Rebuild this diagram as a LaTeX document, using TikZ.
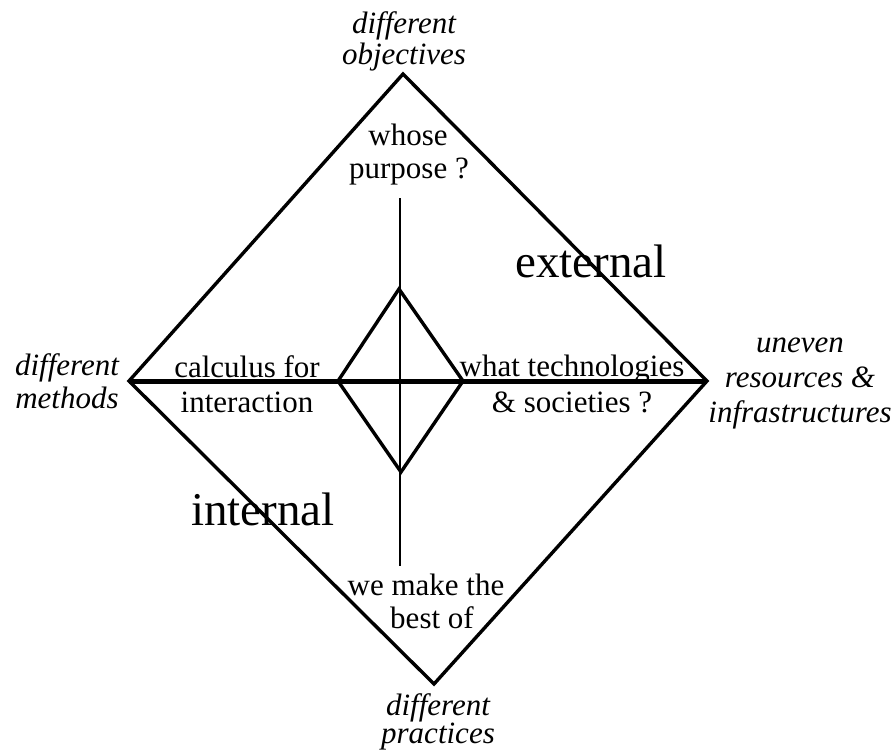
\documentclass[tikz,border=0pt]{standalone}
\usepackage{fontspec}
\setmainfont{Liberation Serif}
\begin{document}
\begin{tikzpicture}[x=1pt,y=-1pt,
  lbl/.style={anchor=base,inner sep=0pt,font=\fontsize{31}{35}\selectfont},
  ilbl/.style={lbl,font=\fontsize{31}{35}\selectfont\itshape},
  big/.style={anchor=base,inner sep=0pt,font=\fontsize{47}{50}\selectfont},
  edge/.style={line width=3.4pt,line join=miter}]
\useasboundingbox (0,0) rectangle (895,753);
% outer diamond corners
\coordinate (T) at (403,74);
\coordinate (L) at (129,381);
\coordinate (B) at (434,684);
\coordinate (R) at (707,381);
% inner diamond corners
\coordinate (t) at (399,289);
\coordinate (l) at (338,381);
\coordinate (b) at (401,472);
\coordinate (r) at (463,381);
% vertical axis ends
\coordinate (vt) at (400,198);
\coordinate (vb) at (400,566);
\draw[edge] (L) -- (T) -- (R) -- (B) -- cycle;
\draw[edge] (l) -- (t) -- (r) -- (b) -- cycle;
\draw[line width=5pt] (L) -- (R);
\draw[line width=2.4pt] (vt) -- (vb);
% labels
\node[ilbl] (o1) at (404,33) {different};
\node[ilbl] (o2) at (404,64) {objectives};
\node[ilbl] (m1) at (67,375) {different};
\node[ilbl] (m2) at (67,408) {methods};
\node[ilbl] (u1) at (800,352) {uneven};
\node[ilbl] (u2) at (800,387) {resources \&};
\node[ilbl] (u3) at (800,422) {infrastructures};
\node[ilbl] (p1) at (438,715) {different};
\node[ilbl] (p2) at (438,743) {practices};
\node[lbl] (w1) at (408,145) {whose};
\node[lbl] (w2) at (409,178) {purpose ?};
\node[lbl] (c1) at (247,377) {calculus for};
\node[lbl] (c2) at (247,412) {interaction};
\node[lbl] (s1) at (572,376) {what technologies};
\node[lbl] (s2) at (572,412) {\& societies ?};
\node[lbl] (k1) at (426,595) {we make the};
\node[lbl] (k2) at (432,628) {best of};
\node[big] (ex) at (591,277) {external};
\node[big] (in) at (263,525) {internal};
\end{tikzpicture}
\end{document}
